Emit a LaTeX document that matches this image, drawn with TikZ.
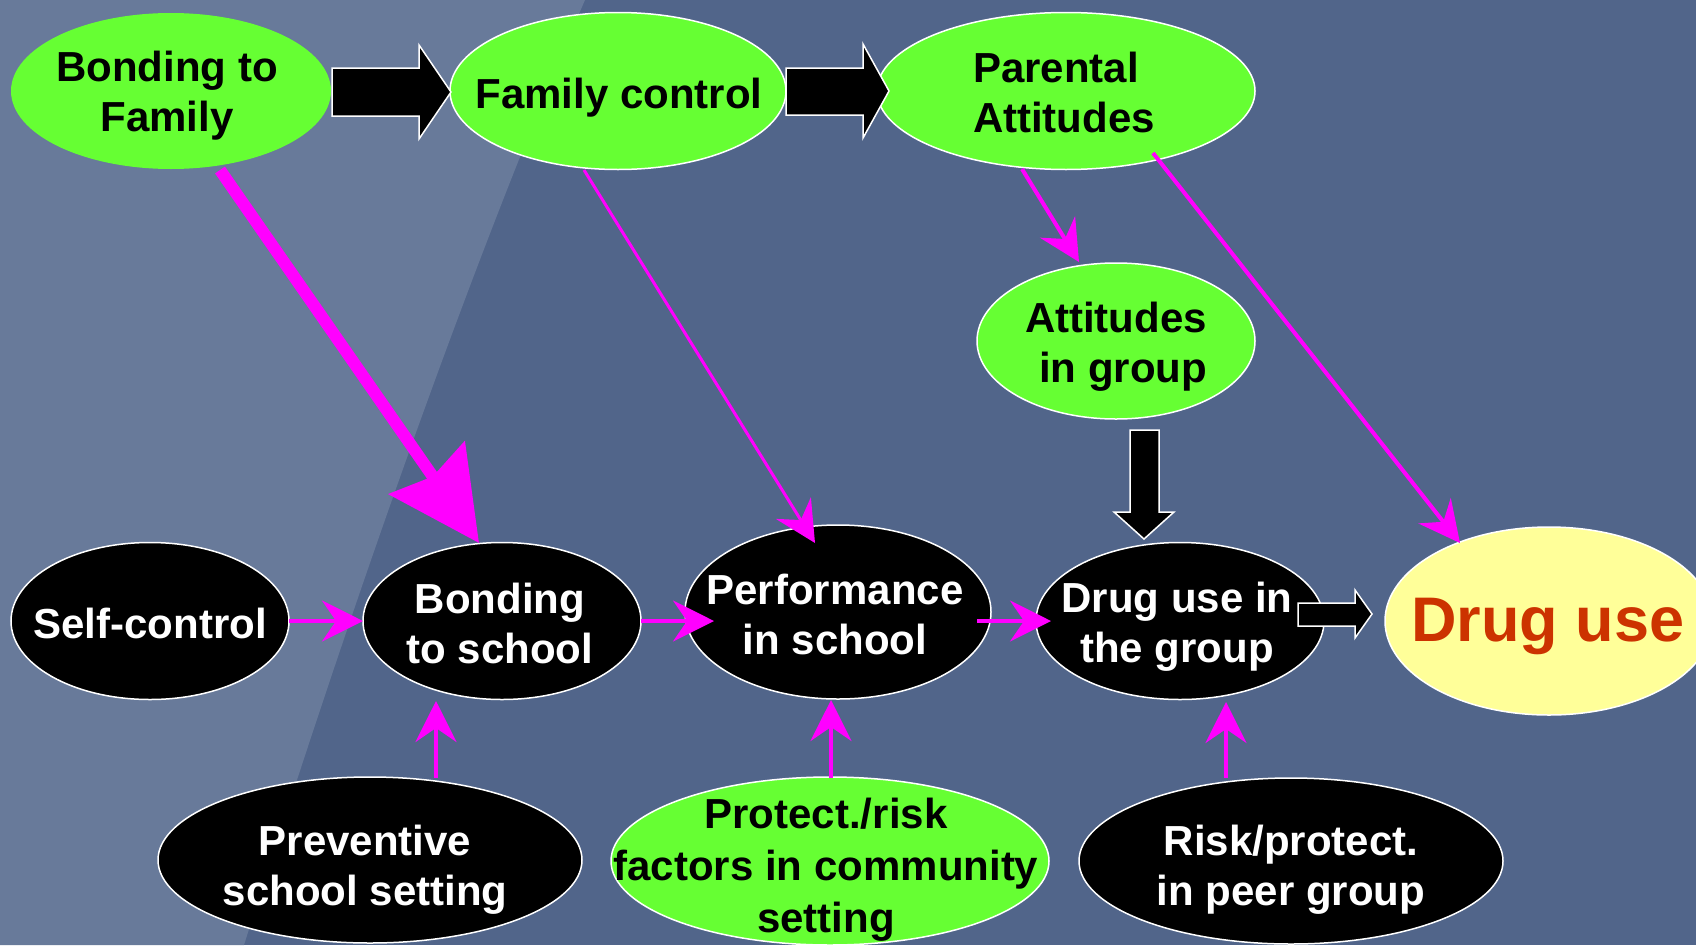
\documentclass[tikz,border=0pt]{standalone}
\usepackage{fontspec}
\setmainfont{Liberation Sans}
\usetikzlibrary{shapes.geometric,arrows.meta,calc}
\definecolor{bgdark}{RGB}{81,101,138}
\definecolor{bglight}{RGB}{104,122,154}
\definecolor{lgreen}{RGB}{102,255,51}
\definecolor{lyellow}{RGB}{255,255,153}
\definecolor{drugred}{RGB}{204,51,0}
\definecolor{mag}{RGB}{255,0,255}
\tikzset{
  ell/.style={ellipse, inner sep=0pt, outer sep=0pt, draw=white, line width=1.5pt},
  gell/.style={ell, fill=lgreen},
  bell/.style={ell, fill=black},
  txt/.style={font=\fontsize{42pt}{50pt}\selectfont\bfseries, align=center, inner sep=0pt},
  wtxt/.style={txt, text=white},
  ktxt/.style={txt, text=black},
  pk/.style={draw=mag, line width=4pt, -{Stealth[length=41pt,width=41pt,inset=14pt]}},
  blk/.style={fill=black, draw=white, line width=1.5pt, line join=miter},
}
\begin{document}
\begin{tikzpicture}[x=1pt,y=-1pt]
\useasboundingbox (0,0) rectangle (1696,945);
\clip (0,0) rectangle (1696,945);
\fill[bgdark] (0,0) rectangle (1696,945);
\fill[bglight] (0,0) -- (585,0) .. controls (520,150) and (400,450) .. (244,945) -- (0,945) -- cycle;

% ellipses
\node[gell, draw=none, minimum width=320pt, minimum height=156pt] (bf) at (171,91) {};
\node[gell, minimum width=336pt, minimum height=157pt] (fc) at (618,91) {};
\node[gell, minimum width=378pt, minimum height=157pt] (pa) at (1066,91) {};
\node[gell, minimum width=278pt, minimum height=156pt] (aig) at (1116,341) {};
\node[bell, minimum width=278pt, minimum height=157pt] (sc) at (150,621) {};
\node[bell, minimum width=278pt, minimum height=157pt] (bs) at (502,621) {};
\node[bell, minimum width=306pt, minimum height=174pt] (perf) at (838,612) {};
\node[bell, minimum width=288pt, minimum height=157pt] (dug) at (1180,621) {};
\node[ell, fill=lyellow, minimum width=328pt, minimum height=188pt] (du) at (1549,621) {};
\node[bell, minimum width=424pt, minimum height=166pt] (prev) at (370,860) {};
\node[gell, minimum width=438pt, minimum height=168pt] (prot) at (830,861) {};
\node[bell, minimum width=424pt, minimum height=166pt] (risk) at (1291,861) {};

% block arrows
\draw[blk] (332,68) -- (419,68) -- (419,45) -- (451,92) -- (419,139) -- (419,116) -- (332,116) -- cycle;
\draw[blk] (786,68) -- (863,68) -- (863,44) -- (889,91) -- (863,138) -- (863,115) -- (786,115) -- cycle;
\draw[blk] (1130,430) -- (1159,430) -- (1159,512) -- (1174,512) -- (1144,539) -- (1114,512) -- (1130,512) -- cycle;
\draw[blk] (1298,603) -- (1355,603) -- (1355,590) -- (1372,614) -- (1355,638) -- (1355,626) -- (1298,626) -- cycle;

% pink arrows
\draw[pk, line width=12pt, -{Stealth[length=91pt,width=91pt,inset=10pt]}] ($(bf.center)+(49,79)$) -- ($(bs.center)+(-23,-78)$);
\draw[pk, line width=3pt] ($(fc.center)+(-34,79)$) -- ($(perf.center)+(-23,-69)$);
\draw[pk] ($(pa.center)+(-44,78)$) -- ($(aig.center)+(-37,-79)$);
\draw[pk] ($(pa.center)+(87,62)$) -- ($(du.center)+(-89,-78)$);
\draw[pk] (sc.east) -- (bs.west);
\draw[pk] (bs.east) -- ($(perf.center)+(-124,9)$);
\draw[pk] ($(perf.center)+(139,9)$) -- ($(dug.center)+(-129,0)$);
\draw[pk] ($(prev.center)+(66,-82)$) -- ($(bs.center)+(-66,80)$);
\draw[pk] ($(prot.center)+(1,-83)$) -- ($(perf.center)+(-7,88)$);
\draw[pk] ($(risk.center)+(-65,-83)$) -- ($(dug.center)+(46,81)$);

% texts
\node[ktxt] (bf-t) at (167,96) {Bonding to\\Family};
\node[ktxt] (fc-t) at (619,98) {Family control};
\node[ktxt, align=left] (pa-t) at (1064,92) {Parental\\Attitudes};
\node[ktxt, align=right] (aig-t) at (1116,347) {Attitudes\\in group};
\node[wtxt] (sc-t) at (150,623) {Self-control};
\node[wtxt] (bs-t) at (500,623) {Bonding\\to school};
\node[wtxt] (perf-t) at (835,614) {Performance\\in school};
\node[wtxt] (dug-t) at (1177,627) {Drug use in\\the group};
\node[txt, text=drugred, font=\fontsize{63pt}{70pt}\selectfont\bfseries] (du-t) at (1548,626) {Drug use};
\node[wtxt] (prev-t) at (365,870) {Preventive\\school setting};
\node[ktxt, font=\fontsize{42pt}{52pt}\selectfont\bfseries] (prot-t) at (826,870) {Protect./risk\\factors in community\\setting};
\node[wtxt] (risk-t) at (1291,870) {Risk/protect.\\in peer group};
\end{tikzpicture}
\end{document}
